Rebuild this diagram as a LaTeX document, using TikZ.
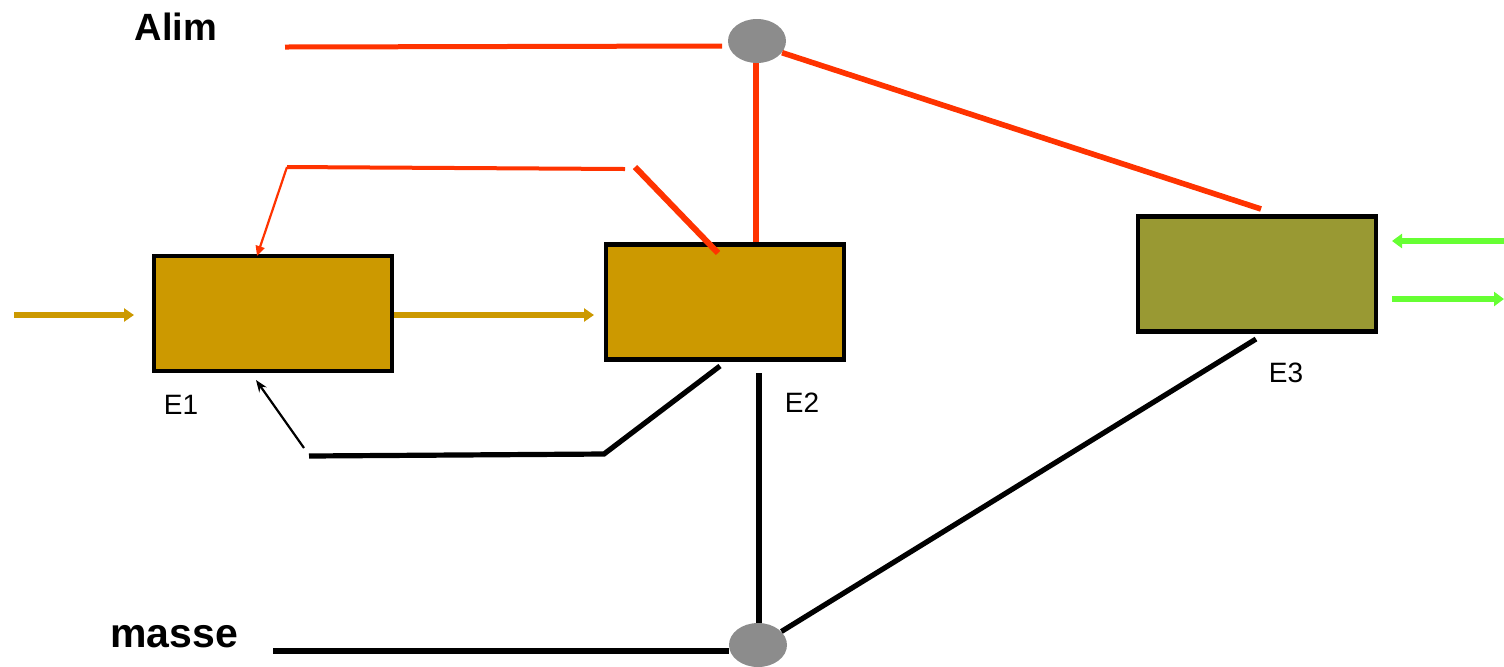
\documentclass[tikz,border=0pt]{standalone}
\usepackage{fontspec}
\setmainfont{Liberation Sans}
\usetikzlibrary{shapes.geometric,arrows.meta}
\definecolor{ochre}{HTML}{CC9900}
\definecolor{olive3}{HTML}{999933}
\definecolor{supply}{HTML}{FF3300}
\definecolor{signal}{HTML}{66FF33}
\definecolor{junction}{HTML}{8C8C8C}
\tikzset{
  stage/.style={draw=black, line width=2.4pt, minimum width=119pt, minimum height=57.5pt, inner sep=0pt},
  tap/.style={ellipse, fill=junction, minimum width=29pt, minimum height=22pt, inner sep=0pt},
  rail/.style={supply, line width=2.8pt},
  ground/.style={black, line width=2.6pt},
  flow/.style={ochre, line width=2.8pt, -{Triangle[length=5pt,width=6.5pt]}},
  io/.style={signal, line width=3pt, -{Triangle[length=5pt,width=7pt]}},
  lbl/.style={font=\fontsize{14}{16}\selectfont, inner sep=0pt},
  bus/.style={font=\bfseries\fontsize{19}{22}\selectfont, inner sep=0pt}
}
\begin{document}
\begin{tikzpicture}[x=0.5pt,y=-0.5pt]
\useasboundingbox (0,0) rectangle (1504,666);

% stages
\node[stage, fill=ochre] (e1) at (273,313.5) {};
\node[stage, fill=ochre] (e2) at (725,302) {};
\node[stage, fill=olive3] (e3) at (1257,274) {};
\node[lbl] (l1) at (181,405) {E1};
\node[lbl] (l2) at (802,403) {E2};
\node[lbl] (l3) at (1286,373) {E3};

% supply and ground junctions
\node[tap] (top) at (757,41) {};
\node[tap] (bot) at (758,645) {};
\node[bus] (alim) at (176,27) {Alim};
\node[bus, font=\bfseries\fontsize{20.5}{22}\selectfont] (masse) at (174,637) {masse};

% supply rail
\coordinate (alimL) at (285,47);
\coordinate (alimR) at (722,46);
\draw[rail, line width=2.5pt] (alimL) -- (alimR);
\draw[rail] (top.south) ++(-1,0) coordinate (topS) -- (topS |- e2.north);
\coordinate (e3top) at (1261,209);
\draw[rail] (top.-25) -- (e3top);

% supply feed from E2 back to E1
\coordinate (fA) at (718,253);
\coordinate (fB) at (635,167);
\coordinate (fC) at (625,169);
\coordinate (fD) at (287,167);
\coordinate (fE) at (257,256);
\draw[supply, line width=3pt] (fA) -- (fB);
\draw[supply, line width=2pt] (fC) -- (fD);
\draw[supply, line width=1.1pt, -{Triangle[length=5pt,width=4.5pt]}] (fD) -- (fE);

% ground rail
\coordinate (mL) at (273,651);
\draw[ground] (mL) -- (mL -| bot.west);
\coordinate (vTop) at (759,373);
\draw[ground] (vTop) -- (vTop |- bot.north);
\coordinate (e3bot) at (1256,339);
\draw[ground] (bot.30) -- (e3bot);

% ground return from E2 back to E1
\coordinate (gA) at (720,366);
\coordinate (gB) at (604,454);
\coordinate (gC) at (309,456);
\coordinate (gD) at (304,448);
\coordinate (gE) at (256,380);
\draw[ground] (gA) -- (gB) -- (gC);
\draw[black, line width=1.1pt, -{Stealth[length=6pt,width=4.5pt]}] (gD) -- (gE);

% signal flow
\coordinate (in1) at (14,315);
\coordinate (in1end) at (134,315);
\draw[flow] (in1) -- (in1end);
\draw[flow] (e1.east |- in1) -- (594,315);
\coordinate (g1) at (1504,241);
\coordinate (g2) at (1504,299);
\draw[io] (g1) -- (1392,241);
\draw[io] (1392,299) -- (g2);
\end{tikzpicture}
\end{document}
